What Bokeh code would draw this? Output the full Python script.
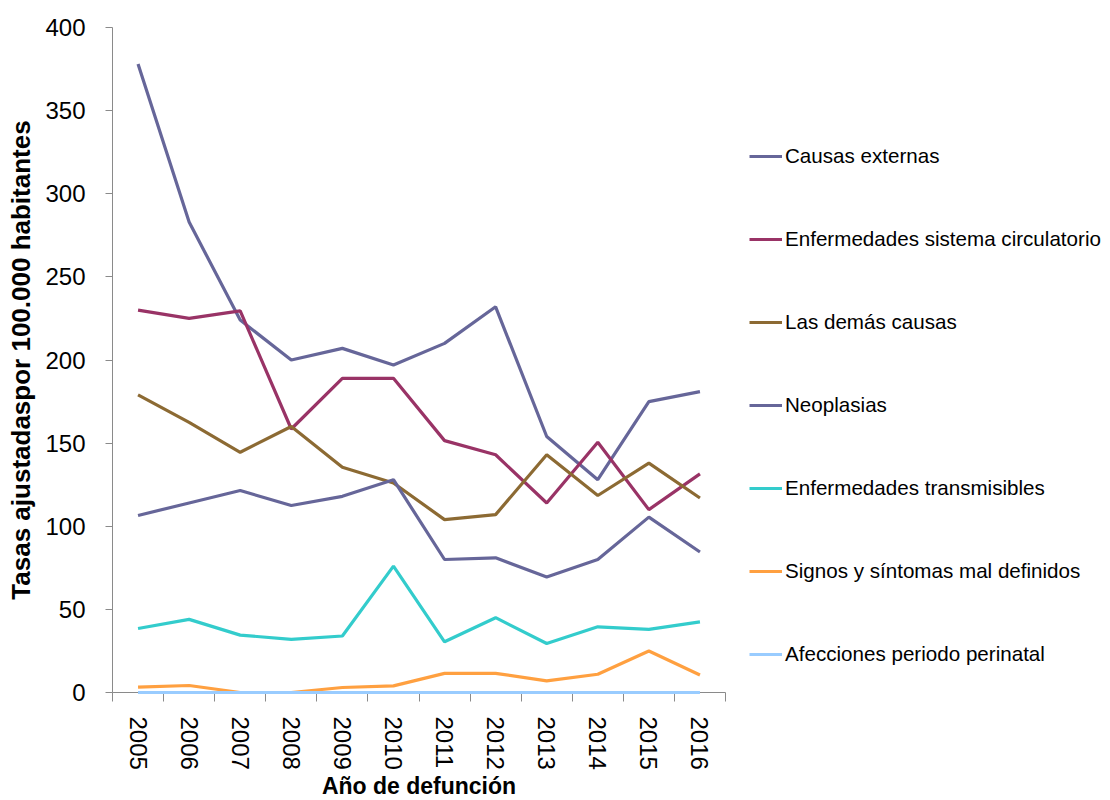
from bokeh.plotting import figure
from bokeh.models import Range1d, FixedTicker, Legend, LegendItem, ColumnDataSource
from bokeh.embed import file_html
from bokeh.resources import INLINE

years = [2005, 2006, 2007, 2008, 2009, 2010, 2011, 2012, 2013, 2014, 2015, 2016]
year_labels = [str(y) for y in years]

causas_externas = [378, 283, 224, 200, 207, 197, 210, 232, 154, 128, 175, 181]
circulatorio = [230, 225, 229.5, 158.5, 189, 189, 151.5, 143, 114, 150.5, 110, 131.5]
demas_causas = [179, 162.5, 144.5, 160, 135.5, 126, 104, 107, 143, 118.5, 138, 117]
neoplasias = [106.5, 114, 121.5, 112.5, 118, 128, 80, 81, 69.5, 80, 105.5, 84.5]
transmisibles = [38.5, 44, 34.5, 32, 34, 76, 30.5, 45, 29.5, 39.5, 38, 42.5]
signos = [3.2, 4.2, 0, 0, 3, 4, 11.5, 11.5, 7, 11, 25, 10.5]
perinatal = [0, 0, 0, 0, 0, 0, 0, 0, 0, 0, 0, 0]

series_names = [
    "Causas externas",
    "Enfermedades sistema circulatorio",
    "Las demás causas",
    "Neoplasias",
    "Enfermedades transmisibles",
    "Signos y síntomas mal definidos",
    "Afecciones periodo perinatal",
]
series_values = [causas_externas, circulatorio, demas_causas, neoplasias,
                 transmisibles, signos, perinatal]
series_colors = ["#666699", "#993366", "#8C6A33", "#666699",
                 "#33CCCC", "#FFA040", "#99CCFF"]

y_ticks = [0, 50, 100, 150, 200, 250, 300, 350, 400]

FONT = "Liberation Sans"

p = figure(frame_width=613, frame_height=665,
           x_range=Range1d(2004.5, 2016.5), y_range=Range1d(0, 400),
           output_backend="svg", toolbar_location=None,
           min_border_left=112, min_border_top=27, min_border_right=0,
           min_border_bottom=80)
p.outline_line_color = None
p.xgrid.visible = False
p.ygrid.visible = False
p.background_fill_color = "white"

items = []
for name, vals, col in zip(series_names, series_values, series_colors):
    src = ColumnDataSource(dict(x=years, y=vals))
    r = p.line("x", "y", source=src, line_color=col, line_width=3.2)
    r.level = "overlay"
    items.append(LegendItem(label=name, renderers=[r]))

# Y axis
ya = p.yaxis[0]
ya.ticker = FixedTicker(ticks=y_ticks)
ya.major_tick_out = 7
ya.major_tick_in = 0
ya.minor_tick_out = 0
ya.minor_tick_in = 0
ya.axis_line_color = "#8a8a8a"
ya.major_tick_line_color = "#8a8a8a"
ya.major_label_text_font = FONT
ya.major_label_text_font_size = "24px"
ya.major_label_text_color = "black"
ya.major_label_standoff = 20
ya.axis_label = "Tasas ajustadaspor 100.000 habitantes"
ya.axis_label_text_font = FONT
ya.axis_label_text_font_style = "bold"
ya.axis_label_text_font_size = "26px"
ya.axis_label_text_color = "black"
ya.axis_label_standoff = 6

# X axis
xa = p.xaxis[0]
xa.ticker = FixedTicker(ticks=years, minor_ticks=[y - 0.5 for y in years] + [years[-1] + 0.5])
xa.major_label_overrides = {y: s for y, s in zip(years, year_labels)}
xa.major_tick_out = 0
xa.major_tick_in = 0
xa.minor_tick_out = 9
xa.minor_tick_in = 0
xa.minor_tick_line_color = "#8a8a8a"
xa.axis_line_color = "#8a8a8a"
xa.major_label_orientation = "vertical"
xa.major_label_text_font = FONT
xa.major_label_text_font_size = "24px"
xa.major_label_text_color = "black"
xa.major_label_standoff = 15
xa.axis_label = "Año de defunción"
xa.axis_label_text_font = FONT
xa.axis_label_text_font_style = "bold"
xa.axis_label_text_font_size = "23px"
xa.axis_label_text_color = "black"
xa.axis_label_standoff = 0

legend = Legend(items=items, location=(24, 26))
legend.glyph_width = 33
legend.glyph_height = 24
legend.label_height = 24
legend.spacing = 59
legend.label_standoff = 3
legend.padding = 0
legend.margin = 0
legend.border_line_alpha = 0
legend.background_fill_alpha = 0
legend.label_text_font = FONT
legend.label_text_font_size = "20.6px"
legend.label_text_color = "black"
p.add_layout(legend, "right")

open("out.html", "w").write(file_html(p, INLINE))
